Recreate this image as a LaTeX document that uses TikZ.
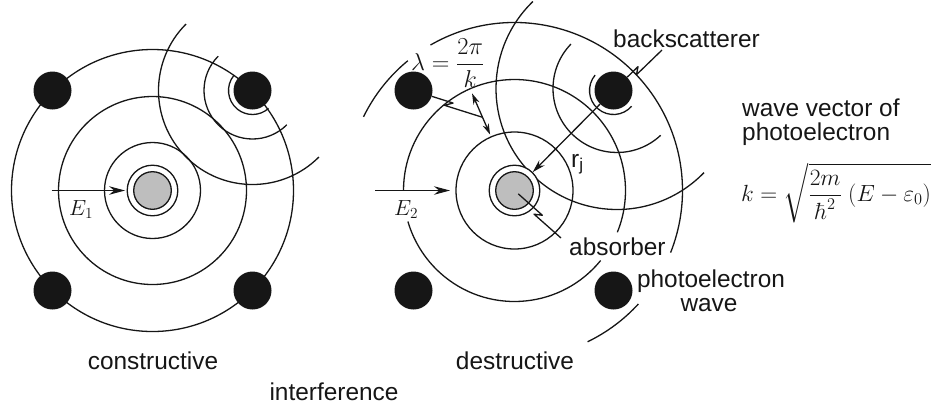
\RequirePackage{fix-cm}
\documentclass[tikz,border=0pt]{standalone}
\usepackage{amsmath}
\usepackage[no-math]{fontspec}
\setmainfont{Liberation Sans}
\usetikzlibrary{arrows.meta,calc}
\definecolor{ink}{HTML}{161616}
\definecolor{coregray}{HTML}{BEBEBE}

% leader line with a small lightning-bolt jog in its middle
\newcommand\zigleader[3][]{%
  \draw[wv,#1] (#2) -- ($(#2)!0.56!(#3)!2.6bp!90:(#3)$)
                    -- ($(#2)!0.46!(#3)!2.6bp!-90:(#3)$) -- (#3);}

\begin{document}
\begin{tikzpicture}[x=1bp,y=-1bp,line join=round,
  wv/.style={line width=1.3bp,draw=ink},
  dotnode/.style={circle,fill=ink,inner sep=0pt,minimum size=38bp},
  shell/.style={circle,draw=ink,fill=white,line width=1.3bp,inner sep=0pt,minimum size=50.6bp},
  core/.style={circle,draw=ink,fill=coregray,line width=1.3bp,inner sep=0pt,minimum size=37.6bp},
  lbl/.style={font=\fontsize{24.5}{25}\selectfont,text=ink,inner sep=0pt},
  mth/.style={font=\fontsize{22}{26}\selectfont,text=ink,inner sep=0pt},
  bigmth/.style={font=\fontsize{24.5}{28}\selectfont,text=ink,inner sep=0pt},
  tip/.style={-{Stealth[length=16bp,width=8.5bp]}},
  smalltip/.style={-{Stealth[length=13bp,width=7.5bp]}},
  dbltip/.style={{Stealth[length=11bp,width=6.5bp]}-{Stealth[length=11bp,width=6.5bp]}},
]
\useasboundingbox (0,0) rectangle (935,408);

% centres of absorbers and wavefront sources
\coordinate (L) at (152.5,190.5);
\coordinate (M) at (514.5,190.5);
\coordinate (BL) at (252.5,90.5);
\coordinate (BM) at (613.5,90.5);
\coordinate (BMw) at (617,88.5);

% ---- left: outgoing shells and backscattered wavefronts
\draw[wv] (L) circle[radius=48] (L) circle[radius=94] (L) circle[radius=141];
\draw[wv] ($(BL)+(219:24)$) arc[start angle=219,end angle=48,radius=24];
\draw[wv] ($(BL)+(225:48.5)$) arc[start angle=225,end angle=45,radius=48.5];
\draw[wv] ($(BL)+(225:94)$) arc[start angle=225,end angle=45,radius=94];

% ---- middle: outgoing shells (broken around the labels)
\draw[wv] (M) circle[radius=58.5];
\draw[wv] ($(M)+(39.1:111)$) arc[start angle=39.1,end angle=163.8,radius=111];
\draw[wv] ($(M)+(180:111)$) arc[start angle=180,end angle=382.1,radius=111];
\draw[wv] ($(M)+(206:168)$) arc[start angle=206,end angle=230.6,radius=168];
\draw[wv] ($(M)+(240:168)$) arc[start angle=240,end angle=381.7,radius=168];
\draw[wv] ($(M)+(402.5:168)$) arc[start angle=402.5,end angle=424.2,radius=168];
% backscattered wavefronts
\draw[wv] ($(BM)+(220:24)$) arc[start angle=220,end angle=41,radius=24];
\draw[wv] ($(BMw)+(224:64)$) arc[start angle=224,end angle=47,radius=64];
\draw[wv] ($(BMw)+(226:121)$) arc[start angle=226,end angle=44,radius=121];

% ---- neighbouring atoms
\node[dotnode] (lTL) at (52.5,90.5) {};
\node[dotnode] (lTR) at (252.5,90.5) {};
\node[dotnode] (lBL) at (52.5,290.5) {};
\node[dotnode] (lBR) at (252.5,290.5) {};
\node[dotnode] (mTL) at (413.5,90.5) {};
\node[dotnode] (mTR) at (613.5,90.5) {};
\node[dotnode] (mBL) at (413.5,290.5) {};
\node[dotnode] (mBR) at (613.5,290.5) {};

% ---- absorbing atoms
\node[shell] (shL) at (L) {};
\node[core] (coL) at (L) {};
\node[shell] (shM) at (M) {};
\node[core] (coM) at (M) {};

% ---- incoming photons
\coordinate (e1s) at (51.5,190.5);
\draw[wv,tip,shorten >=1.5bp] (e1s) -- (shL);
\node[mth,anchor=base west] (E1) at (69,215) {$E_1$};
\coordinate (e2s) at (375,190.5);
\coordinate (e2e) at (450,190.5);
\draw[wv,tip] (e2s) -- (e2e);
\node[mth,anchor=base west] (E2) at (394,215) {$E_2$};

% ---- wavelength marker
\coordinate (w2) at ($(M)+(246.4:106)$);
\coordinate (w1) at ($(M)+(246.4:61)$);
\draw[wv,dbltip] (w2) -- (w1);
\coordinate (wm) at ($(w2)!0.58!(w1)$);
\node[bigmth,anchor=west] (lam) at (411,63) {$\lambda = \dfrac{2\pi}{k}$};
\zigleader{mTL}{wm}

% ---- scattering path
\draw[wv,smalltip] (mTR) -- (shM);
\node[lbl,anchor=base west] (rj) at (571,167) {r\textsubscript{j}};

% ---- labels
\node[lbl,anchor=base west] (bsLbl) at (613,47) {backscatterer};
\coordinate (bsA) at (662,50);
\zigleader{bsA}{mTR}

\node[lbl,anchor=base west] (abLbl) at (569,255) {absorber};
\coordinate (abE) at (561,238);
\zigleader[shorten <=5bp]{coM.center}{abE}

\node[lbl,anchor=base] (pe1) at (711,287) {photoelectron};
\node[lbl,anchor=base] (pe2) at (709,311) {wave};

\node[lbl,anchor=base west] (wv1) at (742,116) {wave vector of};
\node[lbl,anchor=base west] (wv2) at (742,140) {photoelectron};
\node[font=\fontsize{23.5}{27}\selectfont,text=ink,inner sep=0pt,anchor=base west] (kform) at (741,201)
  {$k=\sqrt{\dfrac{2m}{\hbar^2}\;(E-\varepsilon_0)}$};

\node[lbl,anchor=base] (cons) at (153,369) {constructive};
\node[lbl,anchor=base] (dest) at (515,369) {destructive};
\node[lbl,anchor=base] (intf) at (334,400) {interference};
\end{tikzpicture}
\end{document}
